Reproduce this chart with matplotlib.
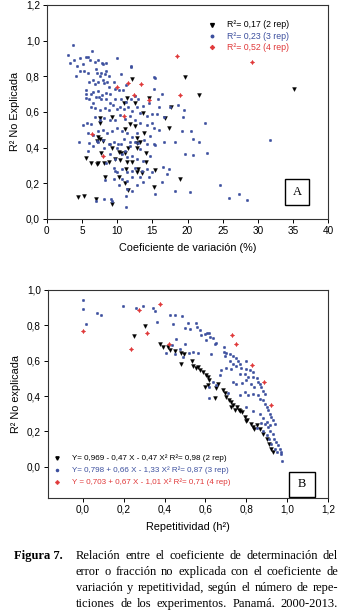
import numpy as np
import matplotlib
matplotlib.use('Agg')
import matplotlib.pyplot as plt
from matplotlib.ticker import FuncFormatter
from matplotlib.patches import Rectangle

plt.rcParams['font.family'] = ['Liberation Sans', 'DejaVu Sans']

BLUE = '#3c4f9e'
RED = '#e0393a'

# --- Panel A: coeficiente de variacion (%) vs R2 no explicada ---
a_2rep = np.array([
    (12.1, .787), (19.7, .793), (11.4, .677), (11.0, .65), (12.6, .647), (14.5, .677), (17.6, .63),
    (21.7, .693), (35.1, .729), (13.7, .594), (7.5, .563), (9.2, .572), (16.8, .563), (11.8, .53),
    (12.6, .523), (7.6, .54), (11.1, .505), (17.4, .512), (13.8, .484), (7.2, .46), (7.6, .45),
    (8.0, .435), (12.8, .455), (12.8, .426), (7.1, .436), (9.2, .395), (10.2, .376), (10.6, .37),
    (11.1, .37), (11.6, .395), (12.8, .395), (13.3, .43), (14.1, .37), (7.7, .37), (5.6, .344),
    (6.3, .312), (7.1, .306), (7.3, .312), (8.1, .312), (8.8, .32), (9.7, .335), (10.4, .33),
    (11.4, .32), (12.1, .32), (14.1, .32), (11.3, .28), (13.0, .28), (12.8, .265), (13.5, .256),
    (15.4, .274), (8.3, .237), (10.2, .237), (18.9, .226), (11.1, .203), (15.2, .18), (11.6, .16),
    (4.4, .122), (5.3, .128), (7.0, .113), (9.3, .086)])

a_3rep = np.array([
    (3.65, .974), (3.0, .92), (3.3, .875), (3.9, .89), (4.7, .90), (5.5, .91), (6.4, .94), (5.8, .91),
    (6.1, .89), (5.1, .87), (4.3, .86), (4.1, .80), (4.7, .83), (5.3, .83), (5.8, .82), (6.8, .88),
    (7.2, .89), (7.8, .875), (8.0, .87), (8.4, .875), (9.9, .90), (7.0, .84), (7.1, .82), (7.7, .82),
    (8.4, .83), (8.3, .81), (7.6, .80), (6.6, .78), (6.0, .77), (6.8, .755), (7.3, .77), (8.0, .78),
    (8.5, .77), (8.1, .76), (5.6, .725), (5.6, .70), (6.2, .70), (6.6, .71), (7.2, .715), (5.5, .68),
    (6.0, .67), (7.0, .685), (7.4, .685), (7.9, .695), (8.4, .706), (9.0, .70), (9.7, .73), (10.2, .72),
    (10.8, .725), (11.2, .75), (10.6, .81), (12.0, .856), (12.0, .85), (9.5, .77), (8.9, .80), (8.8, .74),
    (7.7, .67), (8.4, .67), (9.0, .65), (9.7, .67), (10.5, .67), (11.2, .655), (11.9, .67), (12.6, .69),
    (13.0, .67), (6.5, .65), (6.2, .63), (6.9, .62), (7.5, .61), (8.2, .62), (8.9, .61), (9.4, .64),
    (9.9, .615), (10.4, .63), (11.0, .615), (11.5, .63), (12.1, .605), (12.8, .63), (13.3, .595),
    (13.7, .635), (14.5, .647), (15.3, .73), (15.2, .796), (15.4, .79), (16.4, .70), (15.8, .67),
    (16.0, .63), (16.6, .57), (15.7, .59), (15.0, .59), (14.2, .575), (17.5, .63), (18.6, .64),
    (19.5, .61), (19.3, .57), (22.5, .535), (20.5, .495), (19.2, .49), (18.2, .43), (20.8, .45),
    (21.7, .43), (16.7, .43), (31.8, .445), (5.7, .54), (5.2, .525), (6.3, .53), (6.9, .57), (7.6, .557),
    (8.1, .566), (9.0, .557), (9.7, .557), (10.4, .58), (11.1, .56), (11.8, .575), (12.6, .557),
    (13.2, .535), (14.2, .524), (14.9, .535), (15.3, .51), (15.9, .50), (5.9, .48), (6.6, .473),
    (7.3, .49), (8.0, .50), (8.6, .48), (9.2, .49), (9.95, .51), (10.7, .49), (11.4, .48), (12.1, .46),
    (12.8, .48), (5.97, .426), (7.1, .435), (8.0, .445), (9.0, .417), (10.05, .42), (11.0, .45),
    (11.85, .43), (13.0, .426), (13.8, .445), (14.7, .463), (15.4, .413), (4.6, .43), (5.9, .38),
    (6.6, .41), (7.3, .43), (8.1, .395), (8.8, .42), (9.5, .43), (10.0, .40), (10.5, .42), (11.1, .38),
    (11.8, .41), (12.6, .43), (13.3, .39), (14.2, .42), (15.2, .42), (19.7, .365), (20.8, .36),
    (22.8, .37), (14.7, .355), (13.7, .325), (12.8, .335), (12.1, .355), (11.4, .345), (10.7, .365),
    (9.7, .335), (9.0, .365), (8.4, .315), (9.5, .287), (10.0, .26), (9.7, .27), (10.7, .28),
    (11.4, .26), (12.1, .27), (12.6, .287), (13.5, .27), (14.2, .28), (14.9, .26), (16.5, .29),
    (17.3, .28), (17.1, .25), (16.4, .207), (14.5, .235), (13.3, .237), (12.1, .237), (11.4, .21),
    (10.7, .222), (9.5, .222), (8.3, .218), (10.2, .19), (12.8, .19), (12.1, .155), (11.4, .165),
    (13.7, .207), (18.2, .156), (20.3, .152), (24.6, .188), (15.4, .137), (11.2, .128), (8.1, .109),
    (9.1, .113), (9.3, .10), (11.3, .064), (25.9, .118), (27.3, .137), (28.5, .103), (7.0, .10)])

a_4rep = np.array([
    (18.5, .916), (29.2, .882), (9.9, .74), (11.6, .763), (13.4, .757), (12.4, .693), (18.9, .695),
    (14.5, .665), (10.9, .576), (6.4, .477), (8.0, .35)])

a_labels = ['R²= 0,17 (2 rep)', 'R²= 0,23 (3 rep)', 'R²= 0,52 (4 rep)']

# --- Panel B: repetitividad (h2) vs R2 no explicada ---
b_2rep = np.array([
    (0.252, .74), (0.306, .794), (0.376, .696), (0.392, .677), (0.417, .677), (0.428, .66), (0.45, .655),
    (0.482, .643), (0.493, .636), (0.482, .583), (0.536, .598), (0.539, .568), (0.556, .56),
    (0.565, .564), (0.572, .545), (0.588, .536), (0.605, .517), (0.613, .508), (0.62, .49),
    (0.596, .45), (0.613, .46), (0.66, .47), (0.654, .447), (0.686, .436), (0.694, .417), (0.645, .39),
    (0.70, .394), (0.716, .38), (0.727, .366), (0.735, .347), (0.755, .338), (0.765, .32), (0.77, .315),
    (0.78, .31), (0.792, .28), (0.804, .262), (0.825, .24), (0.833, .225), (0.84, .215), (0.727, .34),
    (0.744, .32), (0.85, .234), (0.866, .215), (0.882, .187), (0.899, .159), (0.912, .131),
    (0.923, .103), (0.93, .084), (0.80, .26)])

b_3rep = np.array([
    (0.0, .943), (0.0, .89), (0.018, .81), (0.069, .87), (0.09, .86), (0.198, .91), (0.26, .90),
    (0.294, .91), (0.346, .90), (0.353, .88), (0.363, .82), (0.425, .857), (0.45, .857), (0.485, .85),
    (0.44, .805), (0.515, .815), (0.50, .787), (0.523, .777), (0.556, .813), (0.559, .79), (0.572, .775),
    (0.58, .743), (0.596, .753), (0.608, .758), (0.617, .757), (0.624, .734), (0.639, .73), (0.654, .70),
    (0.645, .696), (0.605, .715), (0.457, .72), (0.436, .687), (0.474, .664), (0.498, .696),
    (0.405, .643), (0.45, .64), (0.49, .62), (0.52, .643), (0.539, .65), (0.564, .643), (0.629, .64),
    (0.69, .677), (0.69, .65), (0.694, .624), (0.70, .645), (0.72, .636), (0.735, .628), (0.75, .617),
    (0.76, .60), (0.797, .60), (0.768, .583), (0.735, .583), (0.72, .598), (0.678, .549), (0.70, .56),
    (0.727, .555), (0.75, .568), (0.775, .56), (0.80, .555), (0.817, .545), (0.833, .536), (0.792, .526),
    (0.768, .523), (0.809, .508), (0.833, .508), (0.85, .50), (0.858, .48), (0.866, .47), (0.735, .48),
    (0.75, .47), (0.78, .475), (0.80, .49), (0.825, .47), (0.84, .45), (0.874, .45), (0.882, .43),
    (0.89, .413), (0.792, .422), (0.809, .404), (0.833, .413), (0.858, .404), (0.866, .385),
    (0.882, .375), (0.89, .357), (0.899, .338), (0.907, .32), (0.915, .30), (0.923, .28), (0.93, .262),
    (0.94, .243), (0.80, .338), (0.833, .315), (0.866, .30), (0.882, .277), (0.899, .253), (0.915, .234),
    (0.67, .517), (0.62, .39), (0.617, .45), (0.637, .48), (0.654, .46), (0.71, .42), (0.768, .404),
    (0.89, .243), (0.907, .224), (0.918, .205), (0.93, .187), (0.934, .159), (0.944, .14), (0.956, .121),
    (0.964, .103), (0.972, .084), (0.972, .075), (0.977, .034), (0.87, .247), (0.882, .205),
    (0.899, .178), (0.912, .159), (0.923, .131), (0.94, .103), (0.948, .084), (0.85, .22)])

b_4rep = np.array([
    (0.0, .766), (0.237, .666), (0.274, .885), (0.314, .758), (0.377, .92), (0.423, .693), (0.728, .743),
    (0.75, .696), (0.83, .577), (0.886, .479), (0.923, .347)])

b_labels = ['Y= 0,969 - 0,47 X - 0,47 X² R²= 0,98 (2 rep)',
            'Y= 0,798 + 0,66 X - 1,33 X² R²= 0,87 (3 rep)',
            'Y = 0,703 + 0,67 X - 1,01 X² R²= 0,71 (4 rep)']

caption_head = 'Figura 7.'
caption_lines = ['Relación entre el coeficiente de determinación del',
                 'error o fracción no explicada con el coeficiente de',
                 'variación y repetitividad, según el número de repe-',
                 'ticiones de los experimentos. Panamá. 2000-2013.']

colors = ['black', BLUE, RED]
markers = ['v', 'o', (4, 1, 0)]
msizes = [2.8, 1.8, 3.2]

comma1 = FuncFormatter(lambda v, p: f'{v:.1f}'.replace('.', ','))

fig = plt.figure(figsize=(3.4, 6.13), dpi=100)
axA = fig.add_axes([0.138, 0.643, 0.827, 0.349])
axB = fig.add_axes([0.141, 0.188, 0.824, 0.339])


def style(ax):
    for s in ax.spines.values():
        s.set_linewidth(0.8)
        s.set_color('#333333')
    ax.tick_params(direction='out', length=3, width=0.7, labelsize=7.2, pad=2)
    ax.yaxis.set_major_formatter(comma1)


# panel A
for d, c, m, ms in zip([a_2rep, a_3rep, a_4rep], colors, markers, msizes):
    axA.plot(d[:, 0], d[:, 1], ls='none', marker=m, ms=ms, color=c, mec=c, mew=0.3)
axA.set_xlim(0, 40)
axA.set_ylim(0, 1.2)
axA.set_xticks(range(0, 41, 5))
axA.set_yticks(np.arange(0, 1.21, 0.2))
style(axA)
axA.set_xlabel('Coeficiente de variación (%)', fontsize=7.8, labelpad=5)
axA.set_ylabel('R² No Explicada', fontsize=7.8, labelpad=4)
for i, (lab, c, m, ms) in enumerate(zip(a_labels, colors, markers, msizes)):
    yy = 0.907 - i * 0.053
    axA.plot([0.587], [yy], marker=m, ms=ms, color=c, transform=axA.transAxes, clip_on=False)
    axA.text(0.64, yy, lab, color=c, fontsize=6.3, va='center', transform=axA.transAxes)
axA.add_patch(Rectangle((0.847, 0.065), 0.085, 0.122, transform=axA.transAxes,
                        fc='white', ec='black', lw=1.0))
axA.text(0.8895, 0.126, 'A', transform=axA.transAxes, ha='center', va='center',
         fontsize=9, family='Liberation Serif')

# panel B
for d, c, m, ms in zip([b_2rep, b_3rep, b_4rep], colors, markers, msizes):
    axB.plot(d[:, 0], d[:, 1], ls='none', marker=m, ms=ms, color=c, mec=c, mew=0.3)
axB.set_xlim(-0.17, 1.2)
axB.set_ylim(-0.175, 1.0)
axB.set_xticks(np.arange(0, 1.21, 0.2))
axB.set_yticks(np.arange(0, 1.01, 0.2))
style(axB)
axB.xaxis.set_major_formatter(comma1)
axB.set_xlabel('Repetitividad (h²)', fontsize=7.8, labelpad=5)
axB.set_ylabel('R² No explicada', fontsize=7.8, labelpad=4)
for i, (lab, c, m, ms) in enumerate(zip(b_labels, colors, markers, msizes)):
    yy = 0.192 - i * 0.058
    axB.plot([0.032], [yy], marker=m, ms=ms * 0.85, color=c, transform=axB.transAxes, clip_on=False)
    axB.text(0.086, yy, lab, color=c, fontsize=5.8, va='center', transform=axB.transAxes)
axB.add_patch(Rectangle((0.86, 0.005), 0.094, 0.12, transform=axB.transAxes,
                        fc='white', ec='black', lw=1.0))
axB.text(0.907, 0.065, 'B', transform=axB.transAxes, ha='center', va='center',
         fontsize=9, family='Liberation Serif')

# caption, justified between x0 and x1 (pixels)
fig.canvas.draw()
rend = fig.canvas.get_renderer()
W, H = 340, 613
fig.text(14 / W, 1 - 556 / H, caption_head, fontsize=9, weight='bold',
         family='Liberation Serif', va='center')
x0, x1 = 76, 338
for k, line in enumerate(caption_lines):
    yy = 1 - (556 + 16 * k) / H
    words = line.split(' ')
    arts = [fig.text(0, yy, w, fontsize=9, family='Liberation Serif', va='center') for w in words]
    widths = [a.get_window_extent(rend).width for a in arts]
    gap = (x1 - x0 - sum(widths)) / (len(words) - 1)
    x = x0
    for a, wd in zip(arts, widths):
        a.set_x(x / W)
        x += wd + gap

fig.savefig('out.png', dpi=100)
